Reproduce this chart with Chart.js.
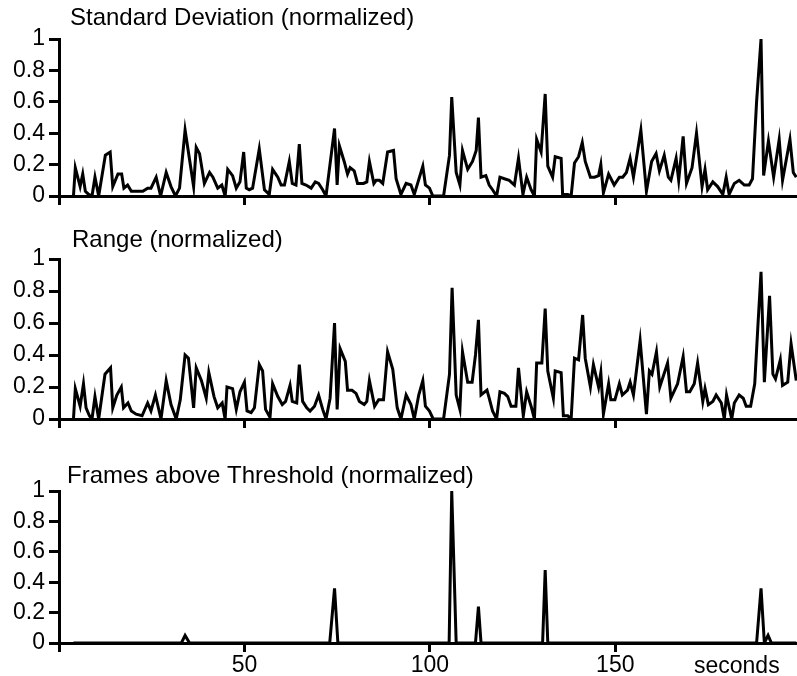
<!DOCTYPE html>
<html>
<head>
<meta charset="utf-8">
<script src="https://cdn.jsdelivr.net/npm/chart.js@4.4.0/dist/chart.umd.min.js"></script>
<style>
  html, body { margin: 0; padding: 0; background: #fff; }
  #wrap { position: relative; width: 797px; height: 676px; overflow: hidden; }
  canvas { position: absolute; left: 0; }
</style>
</head>
<body>
<div id="wrap">
  <canvas id="sd" width="797" height="215" style="top:0px"></canvas>
  <canvas id="range" width="797" height="225" style="top:215px"></canvas>
  <canvas id="frames" width="797" height="236" style="top:440px"></canvas>
</div>
<script>
// [seconds, normalized value]
const sdSeries = [
  [3.9,0],[4.4,0.18],[5.7,0.06],[6.4,0.14],[7.1,0.03],[8.0,0.01],[8.9,0],[9.7,0.12],[10.7,0],
  [12.5,0.26],[13.8,0.28],[14.5,0.06],[15.9,0.14],[16.9,0.14],[17.5,0.05],[18.5,0.07],[19.5,0.03],
  [20.8,0.03],[22.6,0.03],[23.9,0.05],[24.8,0.05],[26.2,0.12],[27.4,0],[28.9,0.15],[30.2,0.06],
  [31.4,0],[32.5,0.05],[34.0,0.42],[36.3,0.06],[37.0,0.31],[37.9,0.27],[39.2,0.08],[40.6,0.15],
  [41.5,0.12],[42.8,0.05],[43.9,0.07],[44.8,0],[45.5,0.17],[46.8,0.13],[47.8,0.05],[48.8,0.09],
  [49.8,0.28],[50.5,0.05],[51.3,0.04],[52.2,0.05],[54.0,0.30],[55.4,0.04],[56.7,0.01],[57.6,0.17],
  [59.0,0.12],[59.9,0.07],[60.8,0.07],[62.1,0.22],[62.9,0.08],[63.9,0.07],[64.8,0.33],[65.5,0.08],
  [66.6,0.07],[68.0,0.05],[69.1,0.09],[70.0,0.08],[71.1,0.04],[72.0,0],[74.3,0.43],[75.0,0.07],
  [75.6,0.32],[76.9,0.22],[77.8,0.14],[78.5,0.18],[79.6,0.16],[80.5,0.08],[82.1,0.08],[83.0,0.09],
  [83.7,0.22],[84.9,0.08],[85.5,0.10],[86.4,0.10],[87.3,0.08],[88.6,0.28],[90.2,0.29],[90.9,0.11],
  [92.2,0.01],[93.6,0.08],[94.9,0.07],[95.8,0.01],[98.1,0.19],[98.8,0.07],[99.9,0.05],[100.8,0],
  [103.7,0],[105.3,0.26],[105.9,0.63],[107.1,0.15],[108.1,0.07],[108.8,0.29],[110.2,0.17],
  [111.5,0.22],[112.5,0.29],[113.1,0.50],[113.8,0.12],[115.1,0.13],[116.0,0.07],[116.9,0.04],
  [118.0,0],[118.9,0.12],[120.1,0.11],[121.4,0.10],[122.8,0.07],[123.9,0.24],[125.1,0.01],
  [126.1,0.12],[127.3,0.04],[128.2,0],[128.8,0.36],[130.0,0.28],[131.1,0.65],[131.8,0.19],
  [133.1,0.12],[133.8,0.25],[135.4,0.24],[135.8,0.01],[137.2,0.01],[138.1,0],[139.0,0.21],
  [140.1,0.25],[141.1,0.34],[141.9,0.22],[143.3,0.12],[144.4,0.12],[145.5,0.13],[146.1,0.20],
  [146.8,0.02],[148.2,0.14],[149.7,0.07],[151.1,0.12],[152.0,0.12],[153.0,0.15],[154.0,0.24],
  [154.9,0.12],[156.9,0.42],[158.4,0.03],[159.8,0.22],[161.0,0.27],[161.9,0.16],[163.2,0.26],
  [164.3,0.12],[165.0,0.10],[166.4,0.24],[167.1,0.10],[168.3,0.38],[169.2,0.08],[170.7,0.18],
  [171.9,0.40],[173.4,0.06],[174.2,0.17],[174.9,0.04],[176.3,0.09],[177.6,0.06],[179.0,0.01],
  [179.9,0.12],[180.7,0.01],[182.1,0.08],[183.4,0.10],[184.8,0.07],[186.1,0.07],[187.0,0.11],
  [188.1,0.60],[189.3,1.00],[190.0,0.13],[191.3,0.35],[192.7,0.12],[194.2,0.36],[195.1,0.10],
  [197.1,0.36],[198.0,0.15],[198.8,0.12]
];

const rangeSeries = [
  [3.9,0],[4.4,0.19],[5.7,0.08],[6.6,0.22],[7.3,0.07],[8.2,0.02],[8.9,0],[9.7,0.14],[10.7,0],
  [12.4,0.28],[13.9,0.32],[14.5,0.07],[15.6,0.15],[16.8,0.20],[17.4,0.07],[18.6,0.10],[19.5,0.05],
  [20.8,0.03],[22.4,0.02],[23.9,0.10],[24.8,0.05],[26.0,0.15],[27.5,0],[28.9,0.24],[30.2,0.09],
  [31.6,0],[32.7,0.12],[34.0,0.40],[34.9,0.38],[36.3,0.07],[37.0,0.32],[38.4,0.24],[39.7,0.13],
  [40.4,0.29],[41.8,0.14],[42.8,0.07],[44.0,0.10],[44.8,0],[45.3,0.20],[46.8,0.19],[47.8,0.06],
  [48.8,0.17],[50.0,0.23],[50.7,0.05],[51.8,0.04],[52.7,0.07],[54.0,0.34],[54.9,0.30],[55.7,0.06],
  [56.9,0.01],[57.6,0.22],[59.0,0.14],[60.2,0.09],[61.1,0.11],[62.3,0.21],[62.9,0.11],[64.1,0.10],
  [64.8,0.34],[65.7,0.11],[66.8,0.07],[67.7,0.05],[68.9,0.08],[70.0,0.15],[71.1,0.06],[72.0,0],
  [73.1,0.13],[74.3,0.60],[75.0,0.06],[75.8,0.44],[77.2,0.36],[77.8,0.18],[79.0,0.18],[80.1,0.16],
  [81.0,0.11],[82.3,0.09],[83.0,0.11],[83.7,0.24],[85.1,0.08],[86.2,0.12],[87.5,0.12],[88.6,0.42],
  [90.0,0.31],[91.2,0.07],[92.2,0],[93.6,0.15],[94.9,0.09],[95.8,0],[97.0,0.15],[98.1,0.24],
  [98.8,0.08],[99.9,0.05],[100.9,0],[103.7,0],[105.3,0.28],[106.0,0.82],[107.1,0.15],[108.1,0.06],
  [108.8,0.42],[110.2,0.23],[111.4,0.23],[112.3,0.40],[113.1,0.62],[113.8,0.15],[115.4,0.18],
  [116.0,0.13],[116.9,0.05],[118.0,0],[118.9,0.17],[120.1,0.16],[121.0,0.14],[121.9,0.08],
  [123.2,0.08],[123.9,0.32],[125.2,0.02],[126.1,0.17],[127.3,0.08],[128.2,0],[128.8,0.35],
  [130.2,0.35],[131.1,0.69],[131.8,0.30],[133.3,0.13],[133.8,0.30],[135.4,0.29],[136.0,0.02],
  [137.2,0.02],[138.1,0],[139.0,0.38],[140.1,0.37],[141.2,0.65],[141.9,0.38],[143.3,0.20],
  [144.1,0.34],[145.5,0.20],[146.1,0.29],[146.8,0.03],[148.2,0.22],[148.8,0.12],[149.9,0.12],
  [151.1,0.22],[151.9,0.15],[153.3,0.18],[154.0,0.23],[154.9,0.15],[156.7,0.49],[158.4,0.03],
  [159.2,0.30],[159.9,0.28],[161.1,0.42],[162.0,0.20],[164.1,0.35],[165.0,0.13],[166.8,0.22],
  [168.3,0.39],[169.2,0.17],[170.1,0.17],[171.3,0.22],[172.2,0.35],[173.6,0.11],[174.2,0.19],
  [175.1,0.09],[176.3,0.11],[177.2,0.15],[178.6,0.10],[179.4,0],[180.0,0.15],[181.4,0],
  [182.1,0.10],[183.4,0.15],[184.5,0.13],[185.3,0.08],[186.5,0.08],[187.6,0.22],[188.5,0.60],
  [189.3,0.92],[190.2,0.23],[191.6,0.77],[192.5,0.28],[193.2,0.25],[194.5,0.37],[195.1,0.21],
  [196.5,0.23],[197.4,0.47],[198.8,0.24]
];

const framesSeries = [
  [3.9,0],[33.0,0],[34.0,0.05],[35.2,0],[73.0,0],[74.3,0.36],[75.2,0],[105.2,0],[105.9,1.0],
  [107.1,0],[112.3,0],[113.1,0.24],[113.8,0],[130.4,0],[131.1,0.48],[131.8,0],[188.1,0],
  [189.3,0.36],[190.2,0],[191.2,0.05],[192.1,0],[198.8,0]
];

const panelTitles = ['Standard Deviation (normalized)', 'Range (normalized)', 'Frames above Threshold (normalized)'];
const xTickValues = [0, 50, 100, 150];
const yTickValues = [0, 0.2, 0.4, 0.6, 0.8, 1];
const xUnit = 'seconds';

const FONT = '"Liberation Sans", Arial, Helvetica, sans-serif';
const TICK_SIZE = 23;
const TITLE_SIZE = 24;
Chart.defaults.font.family = FONT;
Chart.defaults.font.size = TICK_SIZE;
Chart.defaults.color = '#000';

// draws the panel title (and unit label) as text at fixed offsets
const panelText = {
  id: 'panelText',
  afterDraw(chart, args, opts) {
    const ctx = chart.ctx;
    ctx.save();
    ctx.fillStyle = '#000';
    ctx.textBaseline = 'alphabetic';
    ctx.textAlign = 'left';
    (opts.items || []).forEach(it => {
      ctx.font = (it.size || TITLE_SIZE) + 'px ' + FONT;
      ctx.fillText(it.text, it.x, it.y);
    });
    ctx.restore();
  }
};

function makePanel(id, series, cfg) {
  return new Chart(document.getElementById(id), {
    type: 'line',
    data: {
      datasets: [{
        data: series.map(p => ({ x: p[0], y: p[1] })),
        borderColor: '#000',
        borderWidth: 3,
        pointRadius: 0,
        tension: 0,
        fill: false
      }]
    },
    options: {
      responsive: false,
      animation: false,
      devicePixelRatio: 1,
      layout: { padding: { top: cfg.top, left: 0, right: 0, bottom: 0 } },
      plugins: {
        legend: { display: false },
        tooltip: { enabled: false },
        panelText: { items: cfg.texts }
      },
      scales: {
        x: {
          type: 'linear',
          min: 0,
          max: 199,
          afterFit: s => { s.height = cfg.xHeight; },
          afterBuildTicks: s => { s.ticks = xTickValues.map(v => ({ value: v })); },
          grid: { drawOnChartArea: false, tickLength: 9, tickWidth: 3, tickColor: '#000' },
          border: { display: true, color: '#000', width: 3 },
          ticks: {
            autoSkip: false,
            maxRotation: 0,
            padding: 0,
            color: '#000',
            callback: v => (cfg.showX && v !== 0) ? String(v) : ''
          }
        },
        y: {
          min: 0,
          max: 1,
          afterFit: s => { s.width = 59; },
          afterBuildTicks: s => { s.ticks = yTickValues.map(v => ({ value: v })); },
          grid: { drawOnChartArea: false, tickLength: 10, tickWidth: 3, tickColor: '#000' },
          border: { display: true, color: '#000', width: 3 },
          ticks: { autoSkip: false, padding: 4, color: '#000', callback: v => String(v) }
        }
      }
    },
    plugins: [panelText]
  });
}

makePanel('sd', sdSeries, {
  top: 39, xHeight: 19, showX: false,
  texts: [{ text: panelTitles[0], x: 70, y: 25 }]
});
makePanel('range', rangeSeries, {
  top: 44, xHeight: 21, showX: false,
  texts: [{ text: panelTitles[1], x: 72, y: 32 }]
});
makePanel('frames', framesSeries, {
  top: 51, xHeight: 33, showX: true,
  texts: [{ text: panelTitles[2], x: 67, y: 43 }, { text: xUnit, x: 694, y: 233, size: TICK_SIZE }]
});
</script>
</body>
</html>
